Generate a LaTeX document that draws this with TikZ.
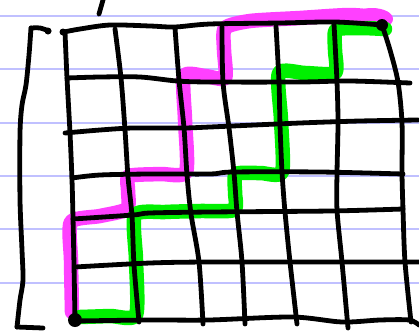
\documentclass[tikz,border=0pt]{standalone}
\usetikzlibrary{calc}
\definecolor{ruled}{RGB}{192,192,255}
\definecolor{magpath}{RGB}{255,64,255}
\definecolor{grnpath}{RGB}{0,240,0}
\tikzset{
  ink/.style={line width=4.8pt, line cap=round, line join=round, black},
  ruleline/.style={line width=2.4pt, ruled},
  hilite/.style={line width=14.5pt, line cap=round, line join=round},
}
\begin{document}
\begin{tikzpicture}[x=1pt,y=-1pt]
\clip (0,0) rectangle (419,332);
\fill[white] (0,0) rectangle (419,332);
% ruled paper lines
\foreach \yy in {16,69,123,176,229,283} \draw[ruleline] (0,\yy) -- (419,\yy);
% magenta route
\draw[hilite, magpath] plot[smooth, tension=0.4] coordinates {(72,312) (71,260) (71,222) (100,216) (127,209) (128,190) (129,176) (160,174) (186,172) (185,120) (184,76) (205,76) (225,78) (224,50) (225,28) (250,21) (300,18) (350,15) (384,18)};
\fill[magpath] (372,19) ellipse (21pt and 11pt);
% green route
\draw[hilite, grnpath] plot[smooth, tension=0.4] coordinates {(80,317) (110,316) (136,315) (136,260) (135,215) (165,212) (200,211) (234,210) (235,192) (236,174) (260,173) (282,172) (281,120) (279,73) (305,73) (335,73) (335,50) (336,30) (360,28) (385,29)};
% bracket
\draw[ink] plot[smooth, tension=0.5] coordinates {(49,31) (40,28) (31,28)};
\draw[ink] plot[smooth, tension=0.5] coordinates {(31,28) (29,55) (26,85) (22,105) (20,133) (20,200) (22,250) (23,280) (20,300) (17,327)};
\draw[ink] (17,327) -- (43,328);
\fill (48,31) circle (3.5pt);
% tick
\draw[ink] (99,14) -- (103,0);
% vertical grid lines
\draw[ink] plot[smooth] coordinates {(65,32) (67,78) (70,133) (72,180) (73,218) (74,265) (75,320)};
\draw[ink] plot[smooth] coordinates {(115,29) (121,78) (125,130) (128,177) (132,216) (134,265) (139,322)};
\draw[ink] plot[smooth] coordinates {(175,28) (179,80) (184,128) (187,175) (191,214) (199,262) (203,324)};
\draw[ink] plot[smooth] coordinates {(222,27) (223,82) (229,128) (234,173) (237,212) (242,262) (245,324)};
\draw[ink] plot[smooth] coordinates {(276,26) (279,82) (280,125) (282,172) (285,212) (290,262) (297,324)};
\draw[ink] plot[smooth] coordinates {(334,24) (337,82) (338,123) (337,173) (337,210) (342,262) (348,328)};
\draw[ink] plot[smooth] coordinates {(382,25) (390,50) (398,82) (402,123) (402,173) (403,210) (405,262) (411,322)};
% horizontal grid lines
\draw[ink] plot[smooth] coordinates {(64,32) (80,29) (110,25) (150,26) (175,27) (210,24) (280,23) (335,22) (382,25)};
\draw[ink] plot[smooth] coordinates {(67,78) (100,77) (140,77) (177,81) (210,82) (300,82) (350,81) (410,83)};
\draw[ink] plot[smooth] coordinates {(65,133) (100,130) (133,128) (183,128) (210,127) (300,123) (360,121) (418,120)};
\draw[ink] plot[smooth] coordinates {(72,178) (100,175) (150,174) (210,174) (233,172) (320,172) (403,174)};
\draw[ink] plot[smooth] coordinates {(73,219) (133,215) (150,213) (210,212) (330,211) (403,209)};
\draw[ink] plot[smooth] coordinates {(75,267) (150,263) (209,262) (330,262) (419,262)};
\draw[ink] plot[smooth] coordinates {(75,321) (150,320) (209,320) (292,317) (342,322) (380,320) (409,320) (419,325)};
% dots
\fill (75,320) circle (7pt);
\fill (382,25) circle (6pt);
\fill (63,32) circle (3.5pt);
\end{tikzpicture}
\end{document}
